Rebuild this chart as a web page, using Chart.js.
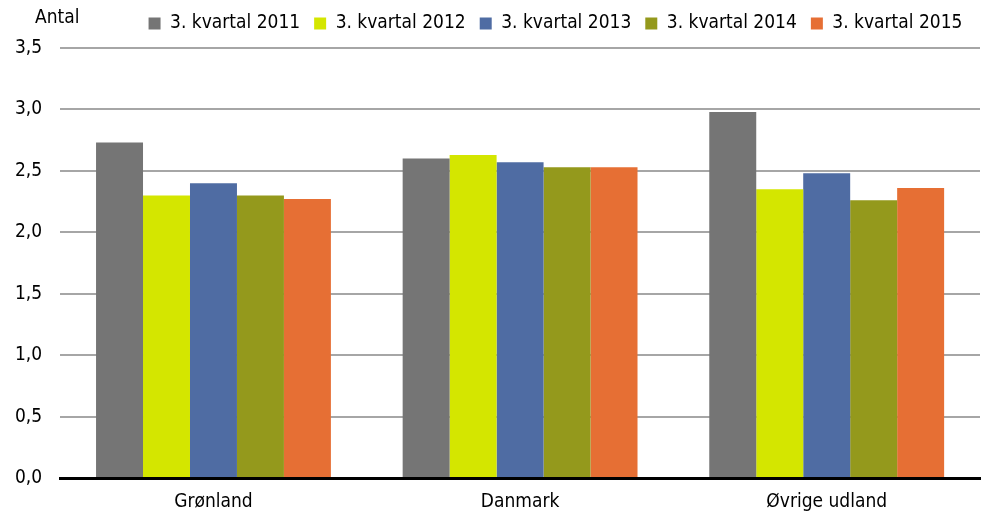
<!DOCTYPE html>
<html>
<head>
<meta charset="utf-8">
<script src="https://cdn.jsdelivr.net/npm/chart.js@4/dist/chart.umd.min.js"></script>
<style>
  html, body { margin: 0; padding: 0; background: #fff; overflow: hidden; }
  #wrap { width: 988px; height: 522px; }
</style>
</head>
<body>
<div id="wrap"><canvas id="barChart"></canvas></div>
<script>
const categories = ["Grønland", "Danmark", "Øvrige udland"]
const seriesLabels = ["3. kvartal 2011", "3. kvartal 2012", "3. kvartal 2013", "3. kvartal 2014", "3. kvartal 2015"]
const values2011 = [2.73, 2.60, 2.98]
const values2012 = [2.30, 2.63, 2.35]
const values2013 = [2.40, 2.57, 2.48]
const values2014 = [2.30, 2.53, 2.26]
const values2015 = [2.27, 2.53, 2.36]
const colors = ["#757575", "#d4e600", "#4f6ca3", "#94991c", "#e66f34"]

const fontFamily = "'Liberation Sans Narrow', 'DejaVu Sans Condensed', sans-serif"
Chart.defaults.font.family = fontFamily
Chart.defaults.color = "#000"

const allValues = [values2011, values2012, values2013, values2014, values2015]

// "Antal" above the y axis, legend pushed right and a bit more room under it
const antalLabel = {
  id: 'antalLabel',
  beforeInit(chart) {
    const origFit = chart.legend.fit
    chart.legend.fit = function () {
      origFit.bind(chart.legend)()
      this.height += 5
    }
  },
  afterLayout(chart) {
    chart.legend.left += 67
    chart.legend.right += 67
  },
  afterDraw(chart) {
    const ctx = chart.ctx
    ctx.save()
    ctx.font = "19px " + fontFamily
    ctx.fillStyle = "#000"
    ctx.textBaseline = "middle"
    ctx.fillText("Antal", 35, 18)
    ctx.restore()
  }
}

const ctx = document.getElementById("barChart").getContext("2d")
new Chart(ctx, {
  type: 'bar',
  data: {
    labels: categories,
    datasets: seriesLabels.map((label, i) => ({
      label: label,
      data: allValues[i],
      backgroundColor: colors[i],
      borderWidth: 0,
      categoryPercentage: 0.766,
      barPercentage: 1.0
    }))
  },
  plugins: [antalLabel],
  options: {
    maintainAspectRatio: false,
    responsive: true,
    animation: false,
    layout: { padding: { left: -3, right: 8, top: 0, bottom: -5 } },
    plugins: {
      title: { display: false },
      tooltip: { enabled: false },
      legend: {
        display: true,
        position: 'top',
        labels: {
          boxWidth: 12,
          boxHeight: 12,
          padding: 14,
          font: { size: 19 },
          color: "#000"
        }
      }
    },
    scales: {
      x: {
        grid: { display: false, drawTicks: false },
        border: { display: true, color: "#000", width: 3 },
        ticks: { font: { size: 19, lineHeight: 1.0 }, color: "#000", padding: 15 }
      },
      y: {
        min: 0,
        max: 3.5,
        grid: { color: "#a6a6a6", lineWidth: 2, drawTicks: false },
        border: { display: false },
        ticks: {
          stepSize: 0.5,
          padding: 18,
          font: { size: 19 },
          color: "#000",
          callback: v => v.toFixed(1).replace('.', ',')
        }
      }
    }
  }
})
</script>
</body>
</html>
